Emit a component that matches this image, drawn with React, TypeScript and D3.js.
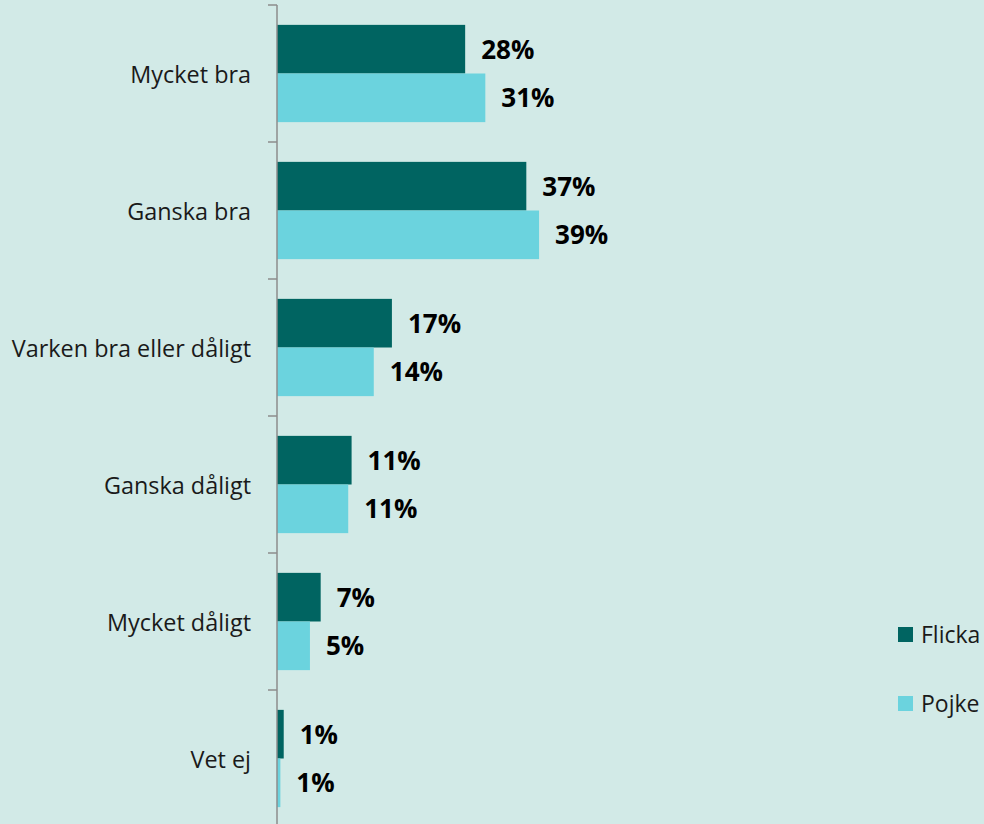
import React from "react";
import * as d3 from "d3";

const categories = [
  "Mycket bra",
  "Ganska bra",
  "Varken bra eller dåligt",
  "Ganska dåligt",
  "Mycket dåligt",
  "Vet ej",
];
const flicka = [28, 37.1, 17.1, 11.1, 6.5, 1.0];
const pojke = [31, 39, 14.4, 10.6, 4.9, 0.5];
const series = [
  { name: "Flicka", values: flicka, color: "#006461" },
  { name: "Pojke", values: pojke, color: "#6bd3de" },
];

const width = 984;
const height = 824;
const axisX = 277;
const font = "'Open Sans', sans-serif";

const App = () => {
  const x = d3.scaleLinear().domain([0, 100]).range([axisX, axisX + 672]);
  const y = d3
    .scaleBand()
    .domain(categories)
    .range([5, 5 + 137 * categories.length])
    .paddingInner(0.29)
    .paddingOuter(0.145);
  const inner = d3
    .scaleBand()
    .domain(series.map((s) => s.name))
    .range([0, y.bandwidth()]);
  const step = y.step();
  const ticks = d3.range(categories.length + 1).map((i) => 5 + i * step);

  return (
    <svg
      width={width}
      height={height}
      style={{ position: "absolute", left: 0, top: 0, background: "#d2eae7" }}
    >
      <rect width={width} height={height} fill="#d2eae7" />
      {series.map((s) =>
        s.values.map((v, i) => (
          <rect
            key={s.name + i}
            x={x(0)}
            y={(y(categories[i]) as number) + (inner(s.name) as number)}
            width={x(v) - x(0)}
            height={inner.bandwidth()}
            fill={s.color}
          />
        ))
      )}
      {series.map((s) =>
        s.values.map((v, i) => (
          <text
            key={"l" + s.name + i}
            x={x(v) + 16}
            y={
              (y(categories[i]) as number) +
              (inner(s.name) as number) +
              inner.bandwidth() / 2
            }
            dy="0.36em"
            fontFamily={font}
            fontWeight="bold"
            fontSize={26}
            fill="#000"
          >
            {Math.round(v)}%
          </text>
        ))
      )}
      <line x1={axisX} x2={axisX} y1={ticks[0]} y2={height} stroke="#8c8c8c" strokeWidth={1.5} />
      {ticks.map((t, i) => (
        <line key={"t" + i} x1={axisX - 9} x2={axisX} y1={t} y2={t} stroke="#8c8c8c" strokeWidth={1.5} />
      ))}
      {categories.map((c) => (
        <text
          key={c}
          x={251}
          y={(y(c) as number) + y.bandwidth() / 2 + 1}
          dy="0.36em"
          textAnchor="end"
          fontFamily={font}
          fontSize={23.4}
          fill="#1a1a1a"
        >
          {c}
        </text>
      ))}
      {series.map((s, i) => (
        <g key={"lg" + s.name} transform={`translate(898, ${627 + i * 69})`}>
          <rect width={15} height={15} fill={s.color} />
          <text x={23} y={8} dy="0.36em" fontFamily={font} fontSize={23} fill="#1a1a1a">
            {s.name}
          </text>
        </g>
      ))}
    </svg>
  );
};

export default App;
